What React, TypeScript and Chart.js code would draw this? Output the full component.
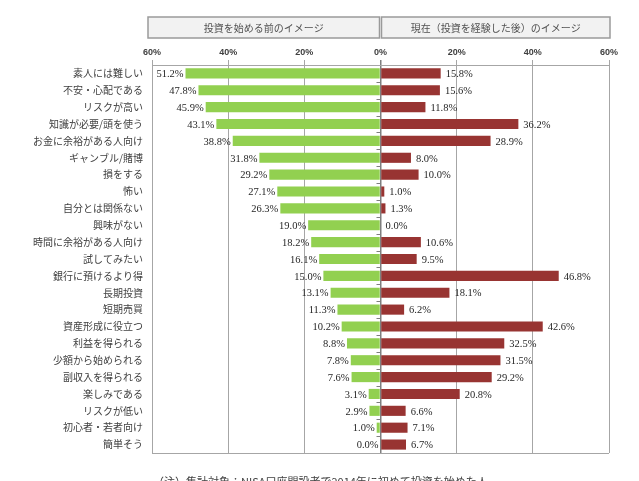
import React, { useEffect, useRef } from "react";
import { Chart, registerables } from "chart.js";

Chart.register(...registerables);

const categories = [
  "素人には難しい",
  "不安・心配である",
  "リスクが高い",
  "知識が必要/頭を使う",
  "お金に余裕がある人向け",
  "ギャンブル/賭博",
  "損をする",
  "怖い",
  "自分とは関係ない",
  "興味がない",
  "時間に余裕がある人向け",
  "試してみたい",
  "銀行に預けるより得",
  "長期投資",
  "短期売買",
  "資産形成に役立つ",
  "利益を得られる",
  "少額から始められる",
  "副収入を得られる",
  "楽しみである",
  "リスクが低い",
  "初心者・若者向け",
  "簡単そう",
];

const beforeValues = [
  51.2, 47.8, 45.9, 43.1, 38.8, 31.8, 29.2, 27.1, 26.3, 19.0, 18.2, 16.1,
  15.0, 13.1, 11.3, 10.2, 8.8, 7.8, 7.6, 3.1, 2.9, 1.0, 0.0,
];

const afterValues = [
  15.8, 15.6, 11.8, 36.2, 28.9, 8.0, 10.0, 1.0, 1.3, 0.0, 10.6, 9.5, 46.8,
  18.1, 6.2, 42.6, 32.5, 31.5, 29.2, 20.8, 6.6, 7.1, 6.7,
];

const xTicks = [-60, -40, -20, 0, 20, 40, 60];
const headerLeft = "投資を始める前のイメージ";
const headerRight = "現在（投資を経験した後）のイメージ";
const footnote = "（注）集計対象：NISA口座開設者で2014年に初めて投資を始めた人";

const JP = '"Noto Sans CJK JP", "Noto Sans", sans-serif';
const SERIF = '"Liberation Serif", "DejaVu Serif", serif';

const decorPlugin = {
  id: "decor",
  afterDraw(chart: any) {
    const ctx = chart.ctx;
    const xs = chart.scales.x;
    const area = chart.chartArea;
    const xL = xs.getPixelForValue(-60);
    const x0 = xs.getPixelForValue(0);
    const xR = xs.getPixelForValue(60);
    ctx.save();
    // header boxes
    const drawBox = (x1: number, x2: number, text: string) => {
      ctx.fillStyle = "#f2f2f2";
      ctx.fillRect(x1, 17, x2 - x1, 21);
      ctx.strokeStyle = "#9a9a9a";
      ctx.lineWidth = 1.5;
      ctx.strokeRect(x1, 17, x2 - x1, 21);
      ctx.fillStyle = "#505050";
      ctx.font = `10px ${JP}`;
      ctx.textAlign = "center";
      ctx.textBaseline = "middle";
      ctx.fillText(text, (x1 + x2) / 2, 28);
    };
    drawBox(xL - 4, x0 - 1, headerLeft);
    drawBox(x0 + 1, xR + 1, headerRight);
    // bottom border
    ctx.strokeStyle = "#a6a6a6";
    ctx.lineWidth = 1;
    ctx.beginPath();
    ctx.moveTo(area.left, area.bottom + 0.5);
    ctx.lineTo(area.right, area.bottom + 0.5);
    ctx.stroke();
    // category tick marks on the zero line
    const n = categories.length;
    const step = (area.bottom - area.top) / n;
    ctx.strokeStyle = "#7f7f7f";
    ctx.beginPath();
    for (let i = 1; i < n; i++) {
      const y = Math.round(area.top + i * step) + 0.5;
      ctx.moveTo(x0 - 4, y);
      ctx.lineTo(x0, y);
    }
    ctx.stroke();
    // value labels
    ctx.font = `10.5px ${SERIF}`;
    ctx.fillStyle = "#262626";
    ctx.textBaseline = "middle";
    chart.data.datasets.forEach((ds: any, di: number) => {
      const meta = chart.getDatasetMeta(di);
      meta.data.forEach((el: any, i: number) => {
        const raw = ds.data[i];
        const px = xs.getPixelForValue(raw);
        const t = Math.abs(raw).toFixed(1) + "%";
        if (di === 0) {
          ctx.textAlign = "right";
          ctx.fillText(t, px - 2, el.y + 1);
        } else {
          ctx.textAlign = "left";
          ctx.fillText(t, px + 5, el.y + 1);
        }
      });
    });
    // footnote (cut off at the bottom)
    ctx.font = `11px ${JP}`;
    ctx.fillStyle = "#404040";
    ctx.textAlign = "left";
    ctx.textBaseline = "top";
    ctx.fillText(footnote, 153, 476);
    ctx.restore();
  },
};

export default function App() {
  const ref = useRef<HTMLCanvasElement>(null);
  useEffect(() => {
    if (!ref.current) return;
    const chart = new Chart(ref.current, {
      type: "bar",
      data: {
        labels: categories,
        datasets: [
          {
            label: headerLeft,
            data: beforeValues.map((v) => -v),
            backgroundColor: "#92d050",
            stack: "s",
            categoryPercentage: 1,
            barPercentage: 0.6,
          },
          {
            label: headerRight,
            data: afterValues,
            backgroundColor: "#983432",
            stack: "s",
            categoryPercentage: 1,
            barPercentage: 0.6,
          },
        ],
      },
      options: {
        indexAxis: "y",
        animation: false,
        responsive: false,
        layout: { padding: { left: 0, right: 30, top: 0, bottom: 28 } },
        plugins: {
          legend: { display: false },
          tooltip: { enabled: false },
        },
        scales: {
          x: {
            position: "top",
            min: -60,
            max: 60,
            stacked: true,
            afterBuildTicks: (scale: any) => {
              scale.ticks = xTicks.map((v) => ({ value: v }));
            },
            afterFit: (scale: any) => {
              scale.height = 65;
            },
            ticks: {
              callback: (v: any) => Math.abs(Number(v)) + "%",
              font: { family: '"Liberation Sans", sans-serif', size: 9, weight: "bold" },
              color: "#404040",
              padding: 2,
              maxRotation: 0,
            },
            grid: {
              color: (c: any) => (c.tick && c.tick.value === 0 ? "#7f7f7f" : "#a6a6a6"),
              lineWidth: (c: any) => (c.tick && c.tick.value === 0 ? 1.5 : 1),
              drawTicks: true,
              tickLength: 5,
            },
            border: { display: true, color: "#a6a6a6" },
          },
          y: {
            stacked: true,
            afterFit: (scale: any) => {
              scale.width = 152;
            },
            ticks: {
              font: { family: JP, size: 10 },
              color: "#404040",
              padding: 9,
              autoSkip: false,
            },
            grid: { display: false, drawTicks: false },
            border: { display: false },
          },
        },
      },
      plugins: [decorPlugin],
    } as any);
    return () => chart.destroy();
  }, []);
  return (
    <div style={{ position: "fixed", left: 0, top: 0, width: 639, height: 481, background: "#fff" }}>
      <canvas ref={ref} width={639} height={481} style={{ display: "block" }} />
    </div>
  );
}
